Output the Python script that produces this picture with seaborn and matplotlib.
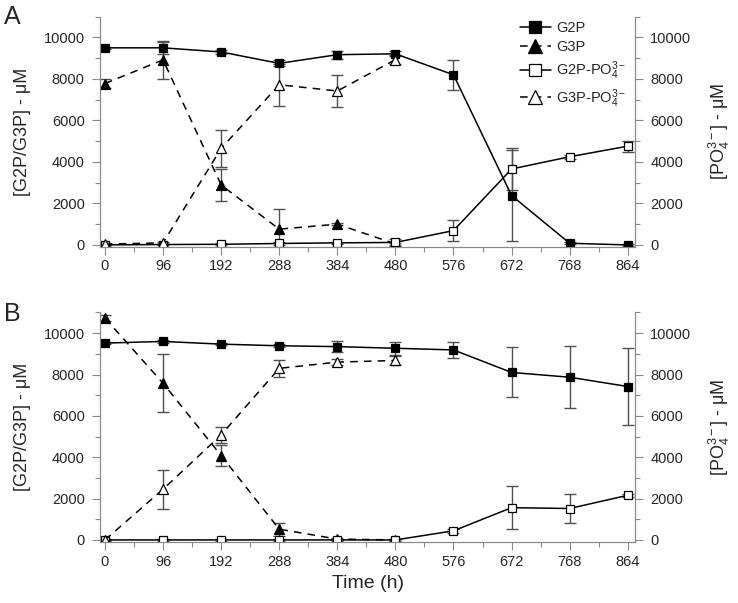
import numpy as np
import pandas as pd
import matplotlib
matplotlib.use("Agg")
import matplotlib.pyplot as plt
from matplotlib.ticker import MultipleLocator
from matplotlib.lines import Line2D
import seaborn as sns

sns.set_style("white")
plt.rcParams['font.family'] = ['Liberation Sans', 'DejaVu Sans']
plt.rcParams['mathtext.fontset'] = 'custom'
plt.rcParams['mathtext.rm'] = 'Liberation Sans'
plt.rcParams['mathtext.it'] = 'Liberation Sans'

time_full = [0, 96, 192, 288, 384, 480, 576, 672, 768, 864]
time_g3p = [0, 96, 192, 288, 384, 480]

# Panel A
a_g2p = [9500, 9500, 9300, 8750, 9170, 9210, 8200, 2380, 80, 0]
a_g2p_err = [60, 280, 80, 150, 200, 120, 720, 2200, 40, 30]
a_g3p = [7780, 8920, 2890, 760, 1000, 50]
a_g3p_err = [200, 900, 760, 960, 60, 40]
a_g2p_po4 = [0, 20, 30, 70, 100, 120, 690, 3660, 4250, 4760]
a_g2p_po4_err = [30, 40, 40, 60, 60, 150, 500, 1000, 100, 260]
a_g3p_po4 = [40, 100, 4650, 7720, 7420, 8930]
a_g3p_po4_err = [40, 60, 900, 1000, 760, 200]

# Panel B
b_g2p = [9520, 9600, 9470, 9390, 9350, 9270, 9190, 8100, 7870, 7420]
b_g2p_err = [60, 60, 60, 80, 250, 320, 400, 1210, 1500, 1860]
b_g3p = [10730, 7580, 4080, 520, 40, 0]
b_g3p_err = [150, 1400, 500, 320, 40, 30]
b_g2p_po4 = [0, 0, 0, 0, 0, 0, 440, 1560, 1520, 2160]
b_g2p_po4_err = [30, 30, 30, 30, 30, 30, 100, 1050, 720, 80]
b_g3p_po4 = [0, 2450, 5080, 8300, 8600, 8680]
b_g3p_po4_err = [40, 950, 370, 420, 150, 200]

legend_labels = ["G2P", "G3P", "G2P-PO$_4^{3-}$", "G3P-PO$_4^{3-}$"]
x_ticks = [0, 96, 192, 288, 384, 480, 576, 672, 768, 864]

W, H = 738, 603
fig = plt.figure(figsize=(W / 100, H / 100), dpi=100)
ax_a = fig.add_axes([100 / W, 1 - 247 / H, 535 / W, 230.3 / H])
ax_b = fig.add_axes([100 / W, 1 - 542 / H, 535 / W, 229.5 / H])

spine_col = '#8a8a8a'
err_col = '#505050'
dash = (0, (5, 4))

styles = [
    dict(marker='s', ls='-', mfc='black', ms=6.0),
    dict(marker='^', ls=dash, mfc='black', ms=7.0),
    dict(marker='s', ls='-', mfc='white', ms=6.0),
    dict(marker='^', ls=dash, mfc='white', ms=7.0),
]


def style_axis(a):
    a.spines['top'].set_visible(False)
    for s in ['left', 'bottom', 'right']:
        a.spines[s].set_color(spine_col)
        a.spines[s].set_linewidth(0.8)
    a.grid(False)


def draw_panel(ax, series, letter, show_xlabel, letter_top):
    for (x, y, e), st in zip(series, styles):
        df = pd.DataFrame({'t': x, 'v': y})
        ax.errorbar(x, y, yerr=e, fmt='none', ecolor=err_col, elinewidth=1.0,
                    capsize=4.5, capthick=1.0, zorder=2)
        sns.lineplot(data=df, x='t', y='v', ax=ax, color='black', linewidth=1.1,
                     linestyle=st['ls'], marker=st['marker'], markersize=st['ms'],
                     markerfacecolor=st['mfc'], markeredgecolor='black',
                     markeredgewidth=0.9, zorder=3, legend=False)
    ax.set_xlim(-8.2, 876)
    ax.set_ylim(-100, 11000)
    ax.set_xticks(x_ticks)
    ax.set_xticklabels([str(t) for t in x_ticks])
    ax.xaxis.set_minor_locator(MultipleLocator(48))
    ax.set_yticks(np.arange(0, 10001, 2000))
    ax.yaxis.set_minor_locator(MultipleLocator(1000))
    ax.tick_params(axis='x', which='major', direction='out', length=6,
                   width=0.8, color=spine_col, labelsize=10.5, pad=3, bottom=True)
    ax.tick_params(axis='y', which='major', direction='out', length=6,
                   width=0.8, color=spine_col, labelsize=10.5, pad=5, left=True)
    ax.tick_params(axis='both', which='minor', direction='out', length=3.5,
                   width=0.8, color=spine_col, left=True, bottom=True)
    style_axis(ax)
    ax.set_ylabel('[G2P/G3P] - μM', fontsize=13, labelpad=9)
    if show_xlabel:
        ax.set_xlabel('Time (h)', fontsize=14, labelpad=5)
    else:
        ax.set_xlabel('')

    axr = ax.twinx()
    axr.set_ylim(ax.get_ylim())
    axr.set_yticks(np.arange(0, 10001, 2000))
    axr.yaxis.set_minor_locator(MultipleLocator(1000))
    axr.tick_params(axis='y', which='major', direction='out', length=6,
                    width=0.8, color=spine_col, labelsize=10.5, pad=5, right=True)
    axr.tick_params(axis='y', which='minor', direction='out', length=3.5,
                    width=0.8, color=spine_col, right=True)
    style_axis(axr)
    axr.set_ylabel('[PO$_4^{3-}$] - μM', fontsize=13, rotation=90, labelpad=11)
    fig.text(0.006, letter_top, letter, fontsize=18, va='top', ha='left')


series_a = [(time_full, a_g2p, a_g2p_err), (time_g3p, a_g3p, a_g3p_err),
            (time_full, a_g2p_po4, a_g2p_po4_err), (time_g3p, a_g3p_po4, a_g3p_po4_err)]
series_b = [(time_full, b_g2p, b_g2p_err), (time_g3p, b_g3p, b_g3p_err),
            (time_full, b_g2p_po4, b_g2p_po4_err), (time_g3p, b_g3p_po4, b_g3p_po4_err)]

draw_panel(ax_a, series_a, 'A', False, 1 - 5 / H)
draw_panel(ax_b, series_b, 'B', True, 1 - 302 / H)

handles = [Line2D([], [], color='black', lw=1.1, ls=st['ls'], marker=st['marker'],
                  ms=st['ms'] * 1.5, mfc=st['mfc'], mec='black', mew=0.9)
           for st in styles]
leg = fig.legend(handles, legend_labels, loc='upper left',
                 bbox_to_anchor=(520 / W, 1 - 21 / H), frameon=False, fontsize=10.5,
                 handlelength=2.1, handletextpad=0.4, labelspacing=0.35,
                 borderaxespad=0.0, borderpad=0.0)
leg.set_zorder(10)

fig.savefig('out.png', dpi=100)
